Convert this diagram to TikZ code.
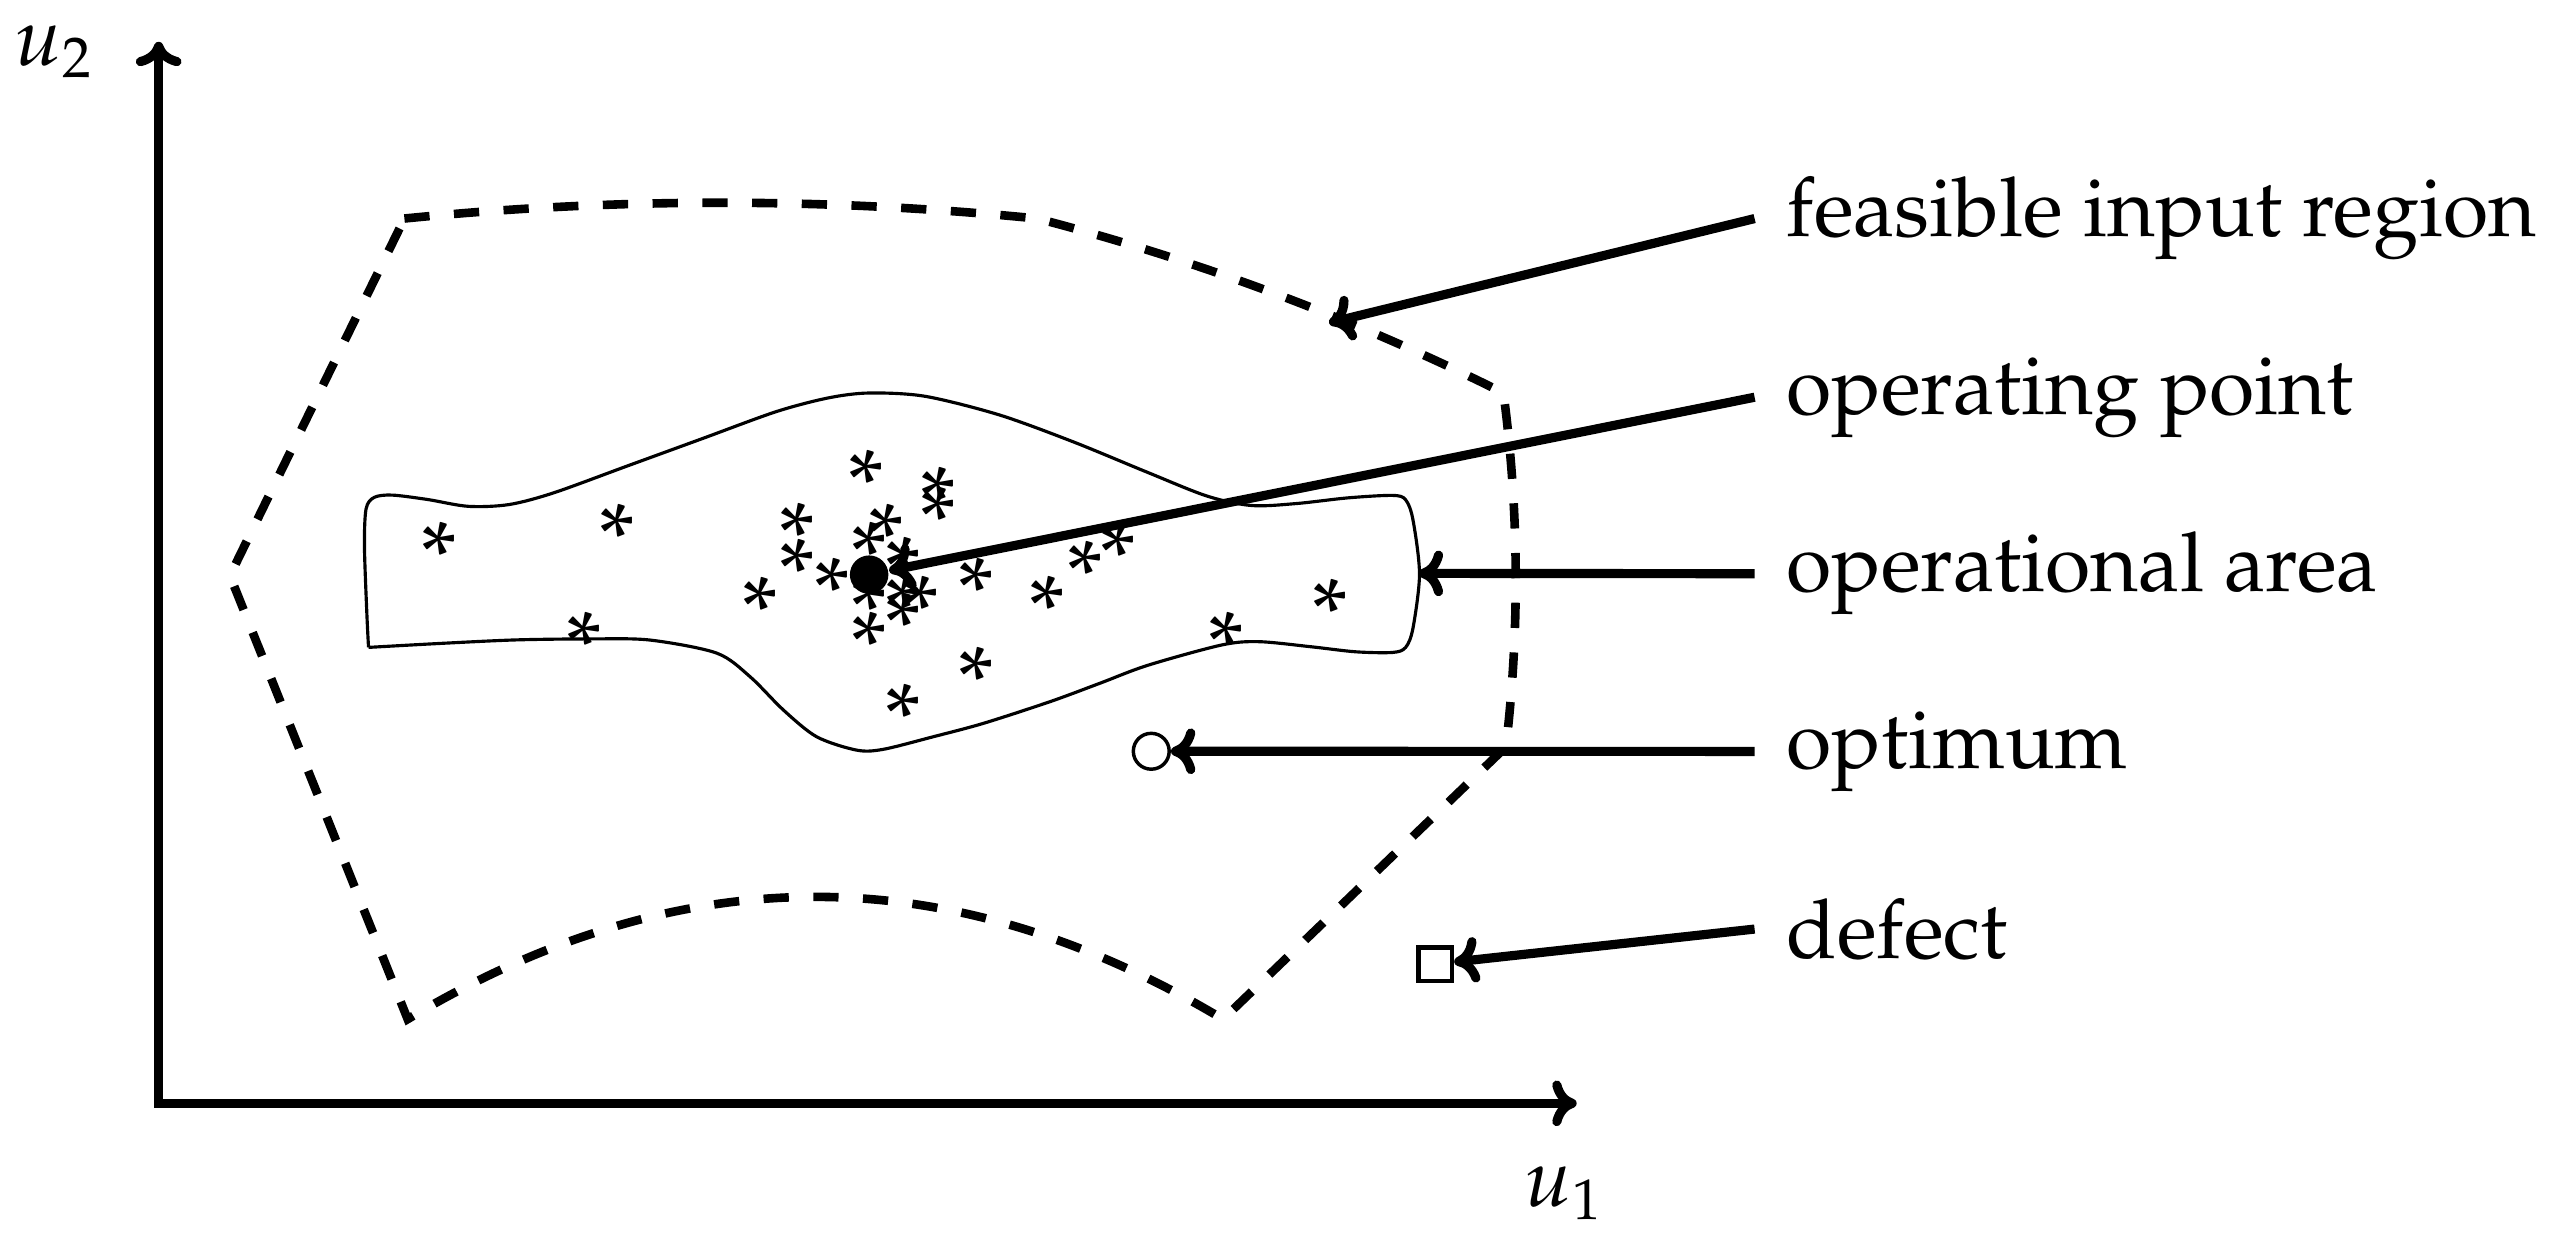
\documentclass[tikz,border=0pt]{standalone}
\usepackage[T1]{fontenc}
\usepackage{mathpazo}
\usetikzlibrary{arrows.meta}
\begin{document}
\begin{tikzpicture}[x=0.1mm,y=-0.1mm,
  >={Computer Modern Rightarrow[length=1.5mm,width=2.8mm]},
  axisline/.style={line width=1.6pt},
  axlbl/.style={anchor=base west,inner sep=0pt,font=\fontsize{14.4}{17}\selectfont},
  region/.style={line width=1.5pt,dash pattern=on 1.55mm off 1.5mm},
  opregion/.style={line width=0.55pt},
  starmark/.style={anchor=base,inner sep=0pt,yshift=-0.8em,font=\fontsize{16.5}{19}\selectfont},
  lbl/.style={anchor=base west,inner ysep=0.3333em,inner xsep=5.4pt,font=\fontsize{14.4}{17}\selectfont},
  annot/.style={line width=1.6pt,->},
  dotmark/.style={circle,fill=black,inner sep=0pt,minimum size=2.36mm},
  circmark/.style={circle,draw,line width=0.6pt,inner sep=0pt,minimum size=2.2mm},
  sqmark/.style={rectangle,draw,line width=0.75pt,inner sep=0pt,minimum size=2.05mm}]
\useasboundingbox (0,0) rectangle (1565,763.5);

% axes
\coordinate (O) at (97.3,676.6);
\coordinate (ytop) at (97.3,25.6);
\coordinate (xend) at (966.9,676.6);
\draw[axisline,<->] (ytop) -- (O) -- (xend);
\node[axlbl] (u2) at (8,40) {$u_2$};
\node[axlbl] (u1) at (934,740) {$u_1$};

% feasible input region
\draw[region] (248,134) .. controls (377.3,121.1) and (506.7,121.1) .. (636,134)
  .. controls (735,159.7) and (830.4,195.3) .. (922,241)
  .. controls (931.5,313.3) and (932,385.7) .. (923.5,458)
  -- (750,625) .. controls (583,525) and (417,525) .. (250,625)
  -- (141,353) -- cycle;

% operational area
\draw[opregion] plot[smooth,tension=0.5] coordinates {
  (226,397) (225,376.9) (223.5,335) (224.5,312) (229.5,305) (240.5,303.6)
  (262.2,306.3) (287.2,310.5) (312.2,309.4) (339.6,302.2) (385.1,285.6)
  (430.6,269) (476.1,252.4) (508,244) (533,241) (567.2,243) (612.7,254.4)
  (658.3,271) (703.8,289.7) (740.2,304.2) (767.5,310) (794.9,308.8)
  (826.7,305.3) (854,303.8) (862,306.5) (866.5,318.8) (870.5,352)
  (866.5,385.2) (862,397) (854,400.1) (831.3,399.7) (803.9,396.6)
  (772.1,393.5) (749.3,395.5) (703.8,408) (674.5,419) (643.9,430.3)
  (603,443.6) (572.3,451.8) (541.7,459.5) (525.3,460) (500.8,451.8)
  (480.4,435.4) (460,415) (439.5,400.5) (398.6,392.5) (362.3,391.8)
  (316.8,392.4) (271.3,394.5) (226,397)};

% measurement points
\foreach \x/\y [count=\i] in {269/332.2, 378.3/321.2, 357.8/387.2, 530.8/288,
  575.4/298.4, 575.4/310.5, 488.9/320.8, 488.9/342.6, 466.1/366.1,
  510.3/354.4, 543.1/321.2, 533/332.2, 553.5/341.6, 533/366.1,
  553.5/364.4, 564.9/365.4, 553.5/375.8, 533/387.2, 598.2/354,
  642.3/365.4, 665.1/343.7, 685.6/332.6, 598.2/409, 553.5/431.2,
  751.6/387.6, 815.5/367}
  \node[starmark] (s\i) at (\x,\y) {*};

% labels
\node[lbl] (fir) at (1076,145.2) {feasible input region};
\node[lbl] (opl) at (1076,254) {operating point};
\node[lbl] (oal) at (1076,363) {operational area};
\node[lbl] (optl) at (1076,471.2) {optimum};
\node[lbl] (defl) at (1076,587.5) {defect};

% targets
\node[dotmark] (op) at (533,352.4) {};
\node[circmark] (opt) at (706,460.7) {};
\node[sqmark] (def) at (880.2,591.2) {};
\coordinate (firt) at (815,198);
\coordinate (oat) at (870,351.6);

% connectors
\draw[annot] (fir.west) -- (firt);
\draw[annot] (opl.west) -- (op);
\draw[annot] (oal.west) -- (oat);
\draw[annot] (optl.west) -- (opt);
\draw[annot] (defl.west) -- (def);
\end{tikzpicture}
\end{document}
